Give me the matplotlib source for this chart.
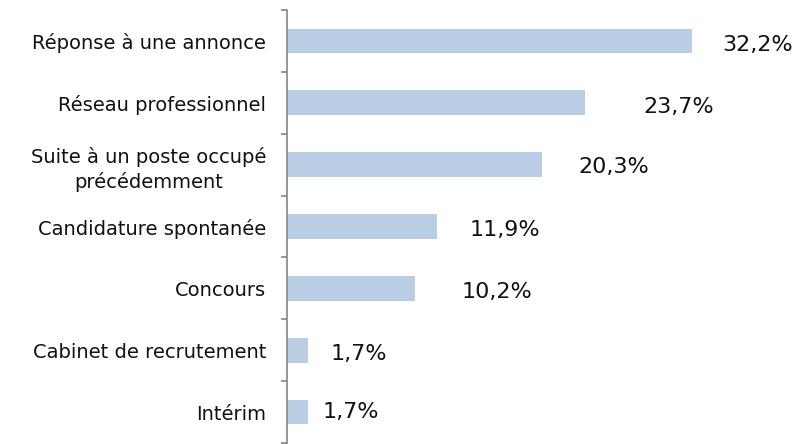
import numpy as np
import matplotlib
matplotlib.use("Agg")
import matplotlib.pyplot as plt
from matplotlib import transforms

# data, top to bottom
categories = ["Réponse à une annonce", "Réseau professionnel",
              "Suite à un poste occupé\nprécédemment", "Candidature spontanée",
              "Concours", "Cabinet de recrutement", "Intérim"]
values = [32.2, 23.7, 20.3, 11.9, 10.2, 1.7, 1.7]
value_labels = ["32,2%", "23,7%", "20,3%", "11,9%", "10,2%", "1,7%", "1,7%"]

# label nudges in pixels (dx right, dy down), as placed in the original
label_dx = [30, 58, 36, 33, 46, 22, 14]
label_dy = [4, 4, 2, 3, 4, 4, 0]

bar_color = "#B9CDE5"
axis_color = "#868686"

plt.rcParams['font.family'] = ['DejaVu Sans']

fig = plt.figure(figsize=(7.96, 4.44), dpi=100)
ax = fig.add_axes([287 / 796, 1 - 443 / 444, 503 / 796, 433 / 444])

n = len(categories)
y = np.arange(n)
ax.barh(y, values, height=0.4, color=bar_color)
ax.set_ylim(n - 0.5, -0.5)
ax.set_xlim(0, 40)

for i, (v, lab) in enumerate(zip(values, value_labels)):
    off = transforms.offset_copy(ax.transData, fig=fig,
                                 x=label_dx[i], y=-label_dy[i], units='dots')
    ax.text(v, i, lab, transform=off, ha='left', va='center',
            fontsize=16, color="#111111")

ax.set_yticks(y)
ax.set_yticklabels(categories, fontsize=14, multialignment='center',
                   color="#111111", linespacing=1.35)
ax.set_yticks(np.arange(n + 1) - 0.5, minor=True)
ax.tick_params(axis='y', which='major', length=0, pad=15)
ax.tick_params(axis='y', which='minor', length=4.5, width=1.2,
               color=axis_color, direction='out')
ax.set_xticks([])

for s in ['top', 'right', 'bottom']:
    ax.spines[s].set_visible(False)
ax.spines['left'].set_color(axis_color)
ax.spines['left'].set_linewidth(1.2)

fig.savefig("out.png", dpi=100)
